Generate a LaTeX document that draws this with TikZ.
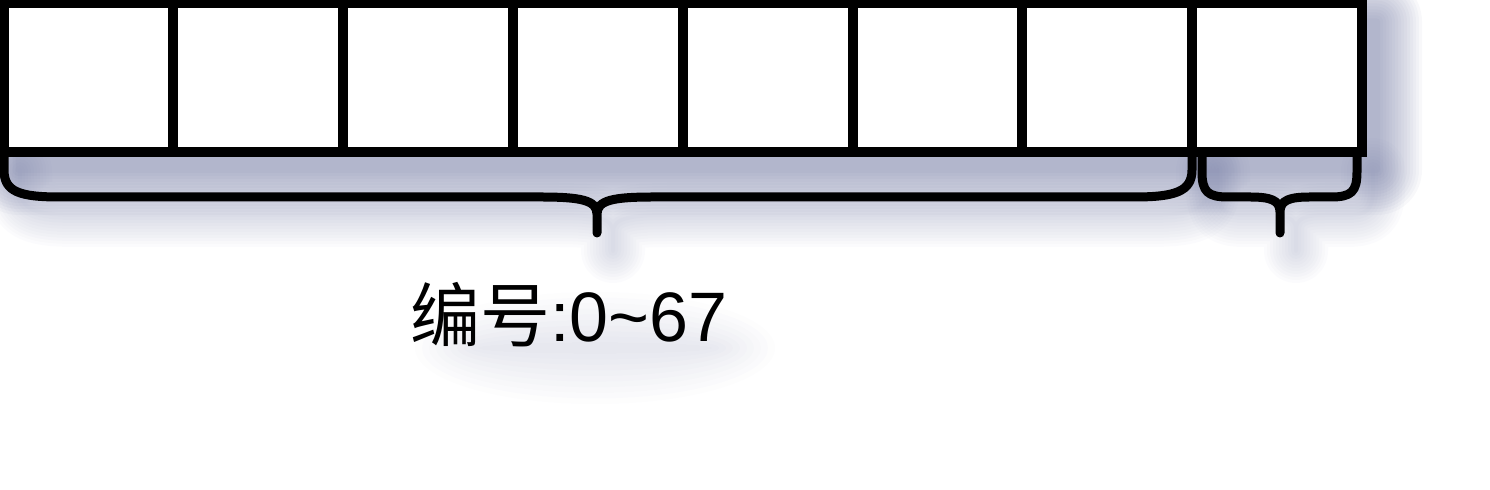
\documentclass[tikz,border=0pt]{standalone}
\usepackage{fontspec}
\setmainfont{Liberation Sans}
\newfontfamily\cjk{Noto Sans CJK SC}
\definecolor{shadowblue}{RGB}{96,104,150}
\newcommand{\rangetext}{{\cjk 编号}:0\textasciitilde 67}
\newcommand{\bracelong}{(4,152) -- (4,170)
    .. controls (4,192) and (20,197) .. (60,197) -- (540,197)
    .. controls (580,197) and (597,200) .. (597,214) -- (597,233)
    (597,214) .. controls (597,200) and (614,197) .. (654,197) -- (1134,197)
    .. controls (1174,197) and (1192,192) .. (1192,170) -- (1192,152)}
\newcommand{\braceshort}{(1202,152) -- (1202,172)
    .. controls (1202,192) and (1208,197) .. (1228,197) -- (1250,197)
    .. controls (1270,197) and (1280,200) .. (1280,212) -- (1280,233)
    (1280,212) .. controls (1280,200) and (1290,197) .. (1310,197) -- (1331,197)
    .. controls (1351,197) and (1357,192) .. (1357,172) -- (1357,152)}
\tikzset{
  cell/.style={draw, line width=5pt, fill=white, minimum width=84.9pt,
    minimum height=74.25pt, inner sep=0pt, outer sep=0pt},
  brace/.style={line width=4.5pt, line cap=round, line join=round},
  haze/.style={shadowblue, opacity=0.025, line cap=round, line join=round},
  rangelabel/.style={font=\fontsize{35}{40}\selectfont, inner sep=0pt}
}
\begin{document}
\begin{tikzpicture}[x=0.5pt,y=-0.5pt]
  \useasboundingbox (0,0) rectangle (1490,490);
  % soft shadows
  \foreach \e in {45,42,...,3}
    \fill[shadowblue, opacity=0.042, rounded corners={\e*0.5pt}]
      ({18.5-\e},{21.5-\e}) rectangle ({1377+\e},{170+\e});
  \foreach \w in {64,58,...,4} {
    \draw[haze, line width={\w*0.5pt}, shift={(16,18)}] \bracelong;
    \draw[haze, line width={\w*0.5pt}, shift={(16,18)}] \braceshort;
  }
  \foreach \e in {70,63,...,7}
    \fill[shadowblue, opacity=0.014]
      (595,348) ellipse ({110+\e} and {\e*0.8});
  % cells
  \foreach \i in {0,...,7}
    \node[cell] (c\i) at ({88.4+169.8*\i},77.75) {};
  % braces
  \draw[brace] \bracelong;
  \draw[brace] \braceshort;
  \node[rangelabel] (range) at (569,315) {\rangetext};
\end{tikzpicture}
\end{document}
